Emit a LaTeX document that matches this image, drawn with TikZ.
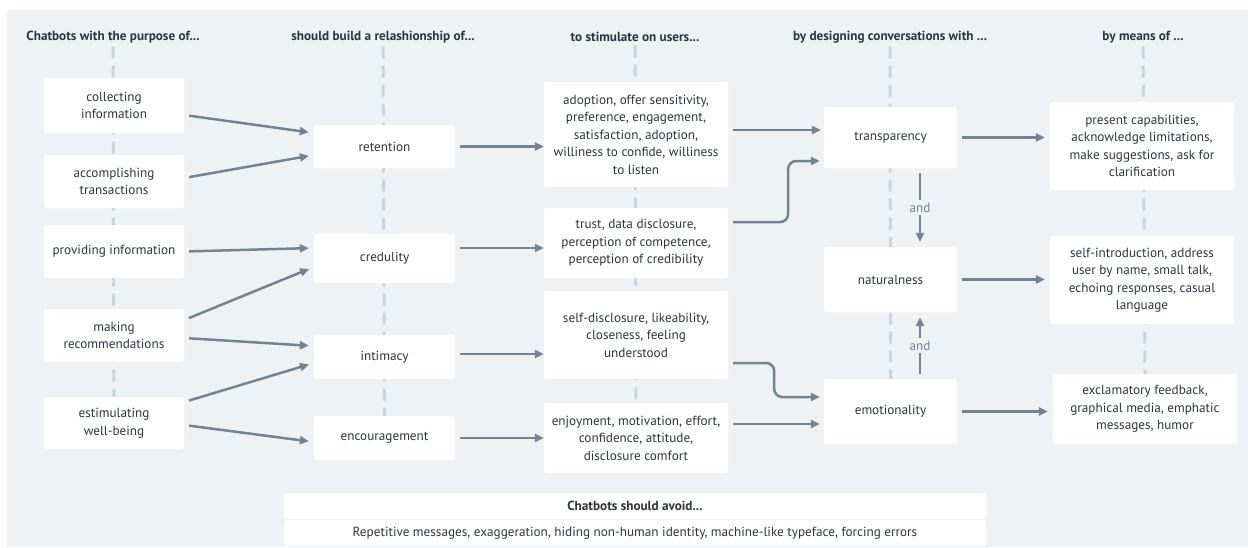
\documentclass[tikz,border=0pt]{standalone}
\usepackage{fontspec}
\setmainfont{PT Sans}
\usetikzlibrary{arrows.meta,backgrounds}
\definecolor{panel}{HTML}{EFF2F5}
\definecolor{guide}{HTML}{CBD4DD}
\definecolor{arrowc}{HTML}{738391}
\definecolor{ink}{HTML}{2E3440}

\begin{document}
\begin{tikzpicture}[x=1pt,y=-1pt,
  font=\fontsize{13.2}{17.5}\selectfont, text=ink,
  box/.style={fill=white, rounded corners=2pt, align=center, inner sep=0pt},
  head/.style={font=\fontsize{13.2}{15}\selectfont\bfseries},
  guideline/.style={guide, line width=3pt, dash pattern=on 12pt off 7pt},
  arr/.style={arrowc, line width=2.5pt, -{Triangle[length=9pt,width=8pt]},
    shorten <=5pt, shorten >=5pt},
  andlbl/.style={fill=panel, inner sep=3pt}]

\useasboundingbox (0,0) rectangle (1248,547);

% column headers
\node[head] (hd1) at (113,37) {Chatbots with the purpose of...};
\node[head] (hd2) at (383,37) {should build a relashionship of...};
\node[head] (hd3) at (635,37) {to stimulate on users...};
\node[head] (hd4) at (890,37) {by designing conversations with ...};
\node[head] (hd5) at (1143,37) {by means of ...};

% purposes
\node[box, minimum width=140pt, minimum height=55pt] (coll) at (114,105.5) {collecting\\information};
\node[box, minimum width=140pt, minimum height=53pt] (acc) at (114,181.5) {accomplishing\\transactions};
\node[box, minimum width=140pt, minimum height=53pt] (prov) at (114,251.5) {providing information};
\node[box, minimum width=140pt, minimum height=53pt] (mak) at (114,335.5) {making\\recommendations};
\node[box, minimum width=140pt, minimum height=52pt] (est) at (114,423) {estimulating\\well-being};

% relationships
\node[box, minimum width=141pt, minimum height=43pt] (ret) at (384.5,146.5) {retention};
\node[box, minimum width=141pt, minimum height=49pt] (cred) at (384.5,258.5) {credulity};
\node[box, minimum width=141pt, minimum height=44pt] (int) at (384.5,357) {intimacy};
\node[box, minimum width=141pt, minimum height=44pt] (enc) at (384.5,438) {encouragement};

% effects on users
\node[box, minimum width=184pt, minimum height=105pt] (sens) at (636,134.5)
  {adoption, offer sensitivity,\\preference, engagement,\\satisfaction, adoption,\\williness to confide, williness\\to listen};
\node[box, minimum width=184pt, minimum height=70pt] (trust) at (636,243)
  {trust, data disclosure,\\perception of competence,\\perception of credibility};
\node[box, minimum width=184pt, minimum height=88pt] (self) at (636,335)
  {self-disclosure, likeability,\\closeness, feeling\\understood};
\node[box, minimum width=184pt, minimum height=70pt] (enj) at (636,438)
  {enjoyment, motivation, effort,\\confidence, attitude,\\disclosure comfort};

% conversation design
\node[box, minimum width=133pt, minimum height=61pt] (trans) at (890.5,137.5) {transparency};
\node[box, minimum width=133pt, minimum height=65pt] (nat) at (890.5,279.5) {naturalness};
\node[box, minimum width=133pt, minimum height=65pt] (emo) at (890.5,411.5) {emotionality};

% means
\node[box, minimum width=184pt, minimum height=88pt] (capab) at (1142,146)
  {present capabilities,\\acknowledge limitations,\\make suggestions, ask for\\clarification};
\node[box, minimum width=184pt, minimum height=88pt] (intro) at (1142,280)
  {self-introduction, address\\user by name, small talk,\\echoing responses, casual\\language};
\node[box, minimum width=184pt, minimum height=70pt] (excl) at (1145,409)
  {exclamatory feedback,\\graphical media, emphatic\\messages, humor};

% things to avoid
\node[box, minimum width=702pt, minimum height=26pt, font=\fontsize{13.2}{15}\selectfont\bfseries] (avoidhd) at (635,506) {Chatbots should avoid...};
\node[box, minimum width=702pt, minimum height=26pt] (avoid) at (635,533)
  {Repetitive messages, exaggeration, hiding non-human identity, machine-like typeface, forcing errors};

% page, panel and guide lines behind everything
\begin{scope}[on background layer]
\fill[white] (0,0) rectangle (1248,547);
\fill[panel] (7,10) rectangle (1248,547);
\draw[guideline] (hd1.south) -- (est.north);
\draw[guideline] (hd2.south) -- (enc.north);
\draw[guideline] (hd3.south) -- (enj.north);
\draw[guideline] (hd4.south) -- (emo.north);
\draw[guideline] (hd5.south) -- (excl.north);
\end{scope}

% purposes -> relationships
\draw[arr] ([yshift=-9.5pt]coll.east) -- ([yshift=13.5pt]ret.west);
\draw[arr] ([yshift=3.5pt]acc.east) -- ([yshift=-8.5pt]ret.west);
\draw[arr] (prov.east) -- ([yshift=10.5pt]cred.west);
\draw[arr] ([yshift=15.5pt]mak.east) -- ([yshift=-8.5pt]cred.west);
\draw[arr] ([yshift=-2.5pt]mak.east) -- ([yshift=11pt]int.west);
\draw[arr] ([yshift=21pt]est.east) -- ([yshift=-6pt]int.west);
\draw[arr] ([yshift=-2pt]est.east) -- ([yshift=-4pt]enc.west);

% relationships -> effects
\draw[arr, shorten >=0pt] (ret.east) -- (ret.east -| sens.west);
\draw[arr, shorten >=0pt] ([yshift=10.5pt]cred.east) -- ([yshift=10.5pt]cred.east -| trust.west);
\draw[arr, shorten >=0pt] ([yshift=3pt]int.east) -- ([yshift=3pt]int.east -| self.west);
\draw[arr, shorten >=0pt] (enc.east) -- (enc.east -| enj.west);

% effects -> conversation design
\draw[arr, shorten >=3pt] ([yshift=4.5pt]sens.east) -- ([yshift=4.5pt]sens.east -| trans.west);
\draw[arr, shorten >=4pt, rounded corners=8pt] ([yshift=21pt]trust.east) -- ++(60pt,0pt) |- ([yshift=-23.5pt]trans.west);
\draw[arr, shorten >=4pt, rounded corners=8pt] ([yshift=-28pt]self.east) -- ++(46pt,0pt) |- ([yshift=14.5pt]emo.west);
\draw[arr, shorten >=4pt] ([yshift=14pt]enj.east) -- ([yshift=-12.5pt]emo.west);

% design links
\draw[arr] ([xshift=29.5pt]trans.south) -- node[andlbl] {and} ([xshift=29.5pt]nat.north);
\draw[arr] ([xshift=29.5pt]emo.north) -- node[andlbl] {and} ([xshift=29.5pt]nat.south);

% conversation design -> means
\draw[arr] (trans.east) -- (trans.east -| capab.west);
\draw[arr] (nat.east) -- (nat.east -| intro.west);
\draw[arr] (emo.east) -- (emo.east -| excl.west);

\end{tikzpicture}
\end{document}
